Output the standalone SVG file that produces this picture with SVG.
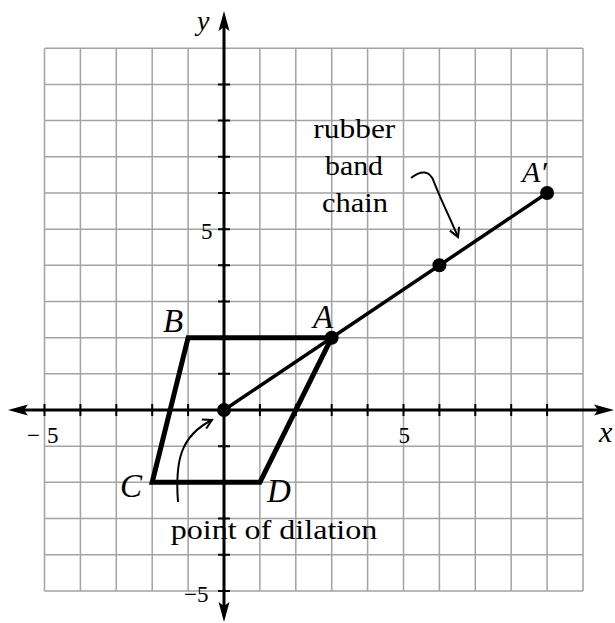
<svg xmlns="http://www.w3.org/2000/svg" width="615" height="623" viewBox="0 0 615 623">
<defs>
<style>
.grid{stroke:#a3a3a3;stroke-width:1.5;fill:none}
.axis{stroke:#000;stroke-width:3;fill:none}
.tick{stroke:#000;stroke-width:2;fill:none}
.shape{stroke:#000;stroke-width:5;fill:none;stroke-linejoin:miter}
.ray{stroke:#000;stroke-width:3.5;fill:none}
.callout{stroke:#000;stroke-width:2;fill:none;marker-end:url(#open)}
.dot{fill:#000}
text{font-family:'Liberation Serif','Times New Roman',Times,serif;fill:#000}
.lbl{font-style:italic;font-size:33px}
.num{font-size:23px}
.note{font-size:28px}
</style>
<marker id="open" viewBox="0 0 12 12" refX="10" refY="6" markerWidth="12" markerHeight="12" markerUnits="userSpaceOnUse" orient="auto">
<path d="M1,1 L10,6 L1,11" fill="none" stroke="#000" stroke-width="2"/>
</marker>
</defs>
<rect width="615" height="623" fill="#fff"/>
<g id="grid" class="grid">
<path d="M44.5,48.3V590.9M80.4,48.3V590.9M116.3,48.3V590.9M152.2,48.3V590.9M188.1,48.3V590.9M259.9,48.3V590.9M295.8,48.3V590.9M331.7,48.3V590.9M367.6,48.3V590.9M403.5,48.3V590.9M439.4,48.3V590.9M475.3,48.3V590.9M511.2,48.3V590.9M547.1,48.3V590.9M583,48.3V590.9"/>
<path d="M44.5,48.3H583M44.5,84.5H583M44.5,120.6H583M44.5,156.8H583M44.5,193H583M44.5,229.2H583M44.5,265.3H583M44.5,301.5H583M44.5,337.7H583M44.5,373.8H583M44.5,446.2H583M44.5,482.3H583M44.5,518.5H583M44.5,554.7H583M44.5,590.9H583"/>
</g>
<g id="axes">
<path class="axis" d="M22,410H600M224,26V608"/>
<polygon points="8,410 28,404.5 24,410 28,415.5" fill="#000"/>
<polygon points="614,410 594,404.5 598,410 594,415.5" fill="#000"/>
<polygon points="224,11 218.5,31 224,27 229.5,31" fill="#000"/>
<polygon points="224,622 218.5,602 224,606 229.5,602" fill="#000"/>
<path class="tick" d="M44.5,404V416M80.4,404V416M116.3,404V416M152.2,404V416M188.1,404V416M259.9,404V416M295.8,404V416M331.7,404V416M367.6,404V416M403.5,404V416M439.4,404V416M475.3,404V416M511.2,404V416M547.1,404V416"/>
<path class="tick" d="M218,84.5H230M218,120.6H230M218,156.8H230M218,193H230M218,229.2H230M218,265.3H230M218,301.5H230M218,337.7H230M218,373.8H230M218,446.2H230M218,482.3H230M218,518.5H230M218,554.7H230M218,590.9H230"/>
<text class="lbl" x="197" y="30" style="font-size:28px">y</text>
<text class="lbl" x="599" y="442" style="font-size:30px">x</text>
<text class="num" x="27" y="443">−<tspan dx="7">5</tspan></text>
<text class="num" x="398.5" y="443">5</text>
<text class="num" x="201" y="238.5">5</text>
<text class="num" x="184" y="602">−5</text>
</g>
<g id="connectors">
<path class="shape" d="M188.1,337.7H331.7L259.9,482.3H152.2Z"/>
<path class="ray" d="M224,410L547.1,193"/>
<path class="callout" d="M411,178C421,170 430,170 434,182C440,198 450,218 458,237"/>
<path class="callout" d="M178,502C175,462 180,436 212,420"/>
</g>
<g id="node-O"><circle class="dot" cx="224" cy="410" r="7"/></g>
<g id="node-A"><circle class="dot" cx="331.7" cy="337.7" r="7"/><text class="lbl" x="313" y="328">A</text></g>
<g id="node-M"><circle class="dot" cx="439.4" cy="265.3" r="7"/></g>
<g id="node-A-prime"><circle class="dot" cx="547.1" cy="193" r="7"/><text class="lbl" x="522" y="182" style="font-size:30px">A′</text></g>
<g id="node-B"><text class="lbl" x="163" y="332">B</text></g>
<g id="node-C"><text class="lbl" x="120" y="497">C</text></g>
<g id="node-D"><text class="lbl" x="267" y="502">D</text></g>
<g id="notes">
<text class="note" x="313.3" y="138" textLength="82" lengthAdjust="spacingAndGlyphs">rubber</text>
<text class="note" x="325" y="175" textLength="58" lengthAdjust="spacingAndGlyphs">band</text>
<text class="note" x="322" y="212" textLength="66" lengthAdjust="spacingAndGlyphs">chain</text>
<text class="note" x="170.7" y="539" textLength="206.6" lengthAdjust="spacingAndGlyphs">point of dilation</text>
</g>
</svg>
